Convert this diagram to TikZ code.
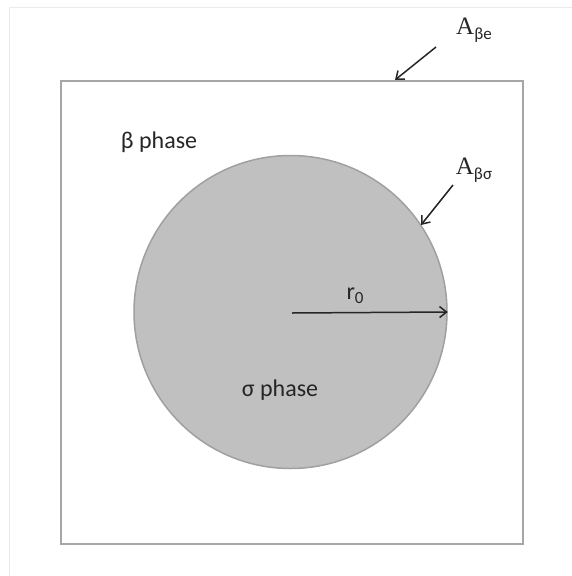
\documentclass[tikz,border=0pt]{standalone}
\usepackage{fontspec}
\setmainfont{Carlito}
\newfontfamily\serifA{Liberation Serif}
\usetikzlibrary{arrows.meta}
\definecolor{boxgray}{HTML}{A6A6A6}
\definecolor{diskfill}{HTML}{C0C0C0}
\definecolor{diskline}{HTML}{A0A0A0}
\definecolor{ink}{HTML}{262626}
\begin{document}
\begin{tikzpicture}[x=1pt,y=-1pt,
  pointer/.style={draw=ink, line width=1.5pt, -{Straight Barb[length=7pt,width=11pt,line width=1.5pt]}},
  lab/.style={text=ink, inner sep=0pt, font=\fontsize{24}{26}\selectfont}
]
\useasboundingbox (0,0) rectangle (572,576);
\draw[black!8, line width=1pt] (9,576) -- (9,7) -- (572,7);
\node[draw=boxgray, line width=1.8pt, minimum width=462pt, minimum height=463pt, inner sep=0pt, anchor=north west] (box) at (60,80) {};
\node[circle, draw=diskline, fill=diskfill, line width=1.5pt, minimum size=313pt, inner sep=0pt] (disk) at (290.5,312) {};
\coordinate (c) at (292,313);
\draw[pointer] (c) -- (disk.east);
\node[lab] (r0) at (355,296) {r\raisebox{-4pt}{\fontsize{17}{17}\selectfont 0}};
\node[lab] (beta) at (159,142.5) {β phase};
\node[lab] (sigma) at (280,390) {σ phase};
\node[lab] (abe) at (474,30) {{\serifA\fontsize{25}{25}\selectfont A}\raisebox{-5pt}{\fontsize{17}{17}\selectfont βe}};
\node[lab] (abs) at (474,170) {{\serifA\fontsize{25}{25}\selectfont A}\raisebox{-5pt}{\fontsize{17}{17}\selectfont βσ}};
\coordinate (t1) at (436,47);
\coordinate (h1) at (395,80);
\coordinate (t2) at (453,185);
\coordinate (h2) at (421,225);
\draw[pointer] (t1) -- (h1);
\draw[pointer] (t2) -- (h2);
\end{tikzpicture}
\end{document}
